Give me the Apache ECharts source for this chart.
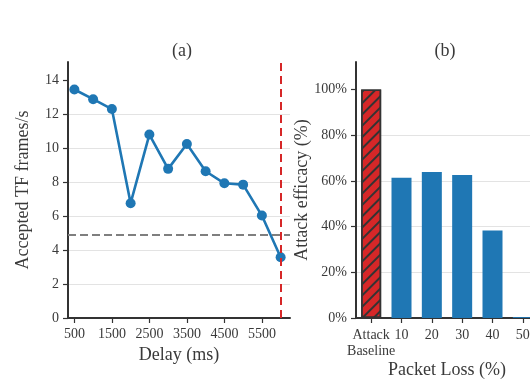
<!DOCTYPE html>
<html>
<head>
<meta charset="utf-8">
<script src="https://cdn.jsdelivr.net/npm/echarts@6/dist/echarts.min.js"></script>
<style>
  html, body { margin: 0; padding: 0; background: #fff; }
  #chart { width: 530px; height: 379px; }
</style>
</head>
<body>
<div id="chart"></div>
<script>
// (a) accepted frames vs delay
const delays = [500, 1000, 1500, 2000, 2500, 3000, 3500, 4000, 4500, 5000, 5500, 6000];
const frames = [13.45, 12.88, 12.3, 6.76, 10.8, 8.78, 10.24, 8.64, 7.93, 7.85, 6.03, 3.58];
const delayTicks = [500, 1500, 2500, 3500, 4500, 5500];
const frameTicks = [0, 2, 4, 6, 8, 10, 12, 14];
const thresholdLine = 4.9;
const cutoffDelay = 6000;

// (b) attack efficacy vs packet loss
const lossCats = ['Attack\nBaseline', '10', '20', '30', '40', '50'];
const efficacy = [100, 61.4, 63.9, 62.6, 38.3, 0.4];
const pctTicks = [0, 20, 40, 60, 80, 100];

const font = 'Liberation Serif';
const axisColor = '#333';
const textColor = '#3a3a3a';

const chart = echarts.init(document.getElementById('chart'));

function yAxisBase() {
  return {
    type: 'value',
    min: 0,
    nameLocation: 'middle',
    nameMoveOverlap: false,
    nameTextStyle: { fontFamily: font, fontSize: 18, color: textColor },
    axisLine: { show: true, onZero: false, lineStyle: { color: axisColor, width: 2 } },
    splitLine: { show: true, showMaxLine: false, showMinLine: false, lineStyle: { color: '#e3e3e3', width: 1.2 } }
  };
}

const option = {
  animation: false,
  backgroundColor: '#fff',
  title: [
    { text: '(a)', left: 177, top: 37, textAlign: 'center',
      textStyle: { fontFamily: font, fontSize: 18, fontWeight: 'normal', color: textColor } },
    { text: '(b)', left: 440, top: 37, textAlign: 'center',
      textStyle: { fontFamily: font, fontSize: 18, fontWeight: 'normal', color: textColor } }
  ],
  grid: [
    { left: 68, top: 62, width: 222, bottom: 61, outerBoundsMode: 'none', containLabel: false },
    // right part of the original figure is cropped, so the grid runs past the canvas
    { left: 356, top: 62, width: 182, bottom: 61, outerBoundsMode: 'none', containLabel: false }
  ],
  xAxis: [
    {
      gridIndex: 0,
      type: 'value',
      min: 330,
      max: 6250,
      name: 'Delay (ms)',
      nameLocation: 'middle',
      nameMoveOverlap: false,
      nameGap: 28,
      nameTextStyle: { fontFamily: font, fontSize: 18, color: textColor },
      axisLine: { show: true, onZero: false, lineStyle: { color: axisColor, width: 2 } },
      axisTick: { show: true, length: 5, customValues: delayTicks, lineStyle: { color: axisColor, width: 1.2 } },
      axisLabel: { fontFamily: font, fontSize: 14, color: textColor, margin: 9, customValues: delayTicks,
        formatter: v => String(v) },
      splitLine: { show: false }
    },
    {
      gridIndex: 1,
      type: 'category',
      data: lossCats,
      name: 'Packet Loss (%)',
      nameLocation: 'middle',
      nameMoveOverlap: false,
      nameGap: 43,
      nameTextStyle: { fontFamily: font, fontSize: 18, color: textColor },
      axisLine: { show: true, onZero: false, lineStyle: { color: axisColor, width: 2 } },
      axisTick: { show: true, length: 5, alignWithLabel: true, lineStyle: { color: axisColor, width: 1.2 } },
      axisLabel: { fontFamily: font, fontSize: 14, color: textColor, margin: 9, lineHeight: 16, interval: 0 },
      splitLine: { show: false }
    }
  ],
  yAxis: [
    Object.assign(yAxisBase(), {
      gridIndex: 0,
      max: 15.07,
      name: 'Accepted TF frames/s',
      nameGap: 36,
      axisTick: { show: true, length: 5, customValues: frameTicks, lineStyle: { color: axisColor, width: 1.2 } },
      axisLabel: { fontFamily: font, fontSize: 14, color: textColor, margin: 9, customValues: frameTicks }
    }),
    Object.assign(yAxisBase(), {
      gridIndex: 1,
      max: 112,
      name: 'Attack efficacy (%)',
      nameGap: 45,
      axisTick: { show: true, length: 5, customValues: pctTicks, lineStyle: { color: axisColor, width: 1.2 } },
      axisLabel: { fontFamily: font, fontSize: 14, color: textColor, margin: 9, customValues: pctTicks, formatter: '{value}%' }
    })
  ],
  series: [
    {
      type: 'line',
      xAxisIndex: 0,
      yAxisIndex: 0,
      data: delays.map((d, i) => [d, frames[i]]),
      symbol: 'circle',
      symbolSize: 10,
      lineStyle: { color: '#1f77b4', width: 2.6 },
      itemStyle: { color: '#1f77b4' },
      z: 3,
      markLine: {
        silent: true,
        symbol: 'none',
        label: { show: false },
        data: [
          { yAxis: thresholdLine, lineStyle: { color: '#7f7f7f', width: 1.8, type: [8, 4] } },
          { xAxis: cutoffDelay, lineStyle: { color: '#d62728', width: 2, type: [8, 5] } }
        ]
      }
    },
    {
      type: 'bar',
      xAxisIndex: 1,
      yAxisIndex: 1,
      barWidth: 20,
      data: efficacy.map((v, i) => i === 0
        ? {
            value: v,
            itemStyle: {
              color: '#d62728',
              borderColor: '#333',
              borderWidth: 1.5,
              decal: {
                color: '#333',
                symbol: 'rect',
                dashArrayX: [1, 0],
                dashArrayY: [1.5, 5.5],
                rotation: -Math.PI / 4
              }
            }
          }
        : { value: v, itemStyle: { color: '#1f77b4' } })
    }
  ]
};

chart.setOption(option);
</script>
</body>
</html>
